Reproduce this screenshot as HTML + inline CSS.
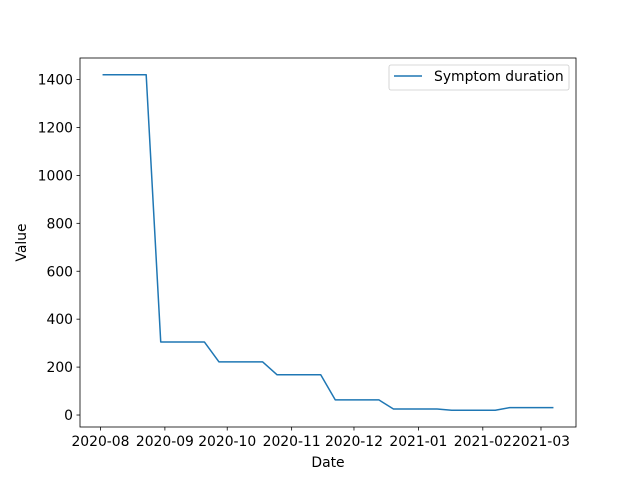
<!DOCTYPE html>
<html><head><meta charset="utf-8"><style>
body{margin:0;background:#fff;}
svg text{font-family:"DejaVu Sans","Liberation Sans",sans-serif;font-size:13.9px;fill:#000;}
</style></head><body>
<svg id="chart" width="640" height="480" xmlns="http://www.w3.org/2000/svg"></svg>
<script>
const startDate = "2020-08-02";
const weekCount = 32;
const values = [1420,1420,1420,1420,305,305,305,305,222,222,222,222,168,168,168,168,63,63,63,63,25,25,25,25,20,20,20,20,31,31,31,31];
const xTickLabels = ["2020-08","2020-09","2020-10","2020-11","2020-12","2021-01","2021-02","2021-03"];
const yTicks = [0,200,400,600,800,1000,1200,1400];
const seriesName = "Symptom duration";

const NS="http://www.w3.org/2000/svg";
const svg=document.getElementById('chart');
const L=80,R=576,T=58,B=427;
const day=86400000;
const t0=Date.parse(startDate+"T00:00:00Z");
const dates=values.map((v,i)=>t0+i*7*day);
const xmin0=Math.min(...dates),xmax0=Math.max(...dates);
const xpad=(xmax0-xmin0)*0.05;
const xmin=xmin0-xpad,xmax=xmax0+xpad;
const vmin=Math.min(...values),vmax=Math.max(...values);
const ypad=(vmax-vmin)*0.05;
const ymin=vmin-ypad,ymax=vmax+ypad;
const X=t=>L+(t-xmin)/(xmax-xmin)*(R-L);
const Y=v=>B-(v-ymin)/(ymax-ymin)*(B-T);
function el(tag,attrs){const e=document.createElementNS(NS,tag);for(const k in attrs)e.setAttribute(k,attrs[k]);svg.appendChild(e);return e;}

const frame=el('rect',{x:L,y:T,width:R-L,height:B-T,fill:'none',stroke:'#000','stroke-width':0.8});



yTicks.forEach(v=>{
  const y=Y(v);
  const tk=el('line',{x1:L-3.5,x2:L,y1:y,y2:y,stroke:'#000','stroke-width':0.8});
  
  
  const tx=el('text',{x:L-7,y:y+5,'text-anchor':'end'});tx.textContent=v;
  
  
});
xTickLabels.forEach(s=>{
  const x=X(Date.parse(s+"-01T00:00:00Z"));
  const tk=el('line',{x1:x,x2:x,y1:B,y2:B+3.5,stroke:'#000','stroke-width':0.8});
  
  
  const tx=el('text',{x:x,y:B+19,'text-anchor':'middle'});tx.textContent=s;
  
  
});
const xt=el('text',{x:(L+R)/2,y:467,'text-anchor':'middle'});xt.textContent='Date';


const yt=el('text',{x:0,y:0,'text-anchor':'middle',transform:`translate(26,${(T+B)/2}) rotate(-90)`});yt.textContent='Value';



const pts=values.map((v,i)=>X(dates[i]).toFixed(2)+','+Y(v).toFixed(2)).join(' ');
const line=el('polyline',{points:pts,fill:'none',stroke:'#1f77b4','stroke-width':1.5,'stroke-linejoin':'round'});



const lg=el('rect',{x:389,y:65,width:180,height:25,fill:'#fff',stroke:'#ccc','stroke-width':0.8,rx:2});


const ll=el('line',{x1:394,x2:422,y1:76,y2:76,stroke:'#1f77b4','stroke-width':1.5});


const lt=el('text',{x:434,y:81});lt.textContent=seriesName;


</script>
</body></html>
